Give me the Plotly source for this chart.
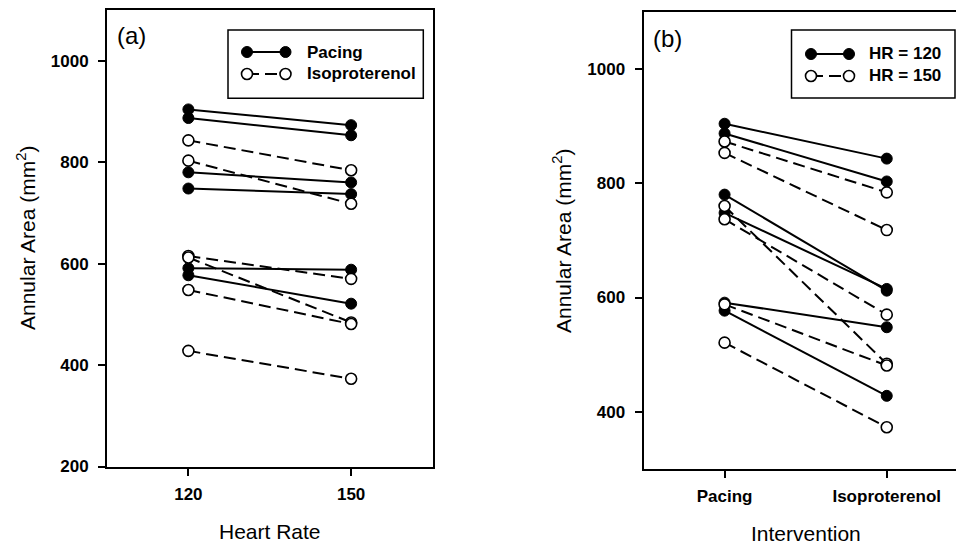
import plotly.graph_objects as go

# ---------------- data ----------------
# Panel (a): Annular area vs heart rate; each line = one animal
heart_rates = [120, 150]
a_pacing_120 = [904, 887, 780, 748, 591, 577]
a_pacing_150 = [873, 853, 760, 737, 588, 521]
a_iso_120 = [843, 803, 615, 612, 548, 428]
a_iso_150 = [784, 718, 570, 484, 481, 373]

# Panel (b): Annular area vs intervention
interventions = ["Pacing", "Isoproterenol"]
b_hr120_pacing = [904, 887, 780, 748, 591, 577]
b_hr120_iso = [843, 803, 612, 615, 548, 428]
b_hr150_pacing = [873, 853, 760, 737, 588, 521]
b_hr150_iso = [784, 718, 484, 570, 481, 373]

a_legend = ["Pacing", "Isoproterenol"]
b_legend = ["HR = 120", "HR = 150"]

# ---------------- helpers ----------------
W, H = 956, 544          # target picture size (positions below are in these pixels)
FIG_H = 554              # figure height used for the page
FONT = "Liberation Sans, Arial, Helvetica, sans-serif"


def px(x):
    return x / W


def py(y):
    return 1 - y / H


def pair_xy(xcats, starts, ends):
    xs, ys = [], []
    for s, e in zip(starts, ends):
        xs += [xcats[0], xcats[1], None]
        ys += [s, e, None]
    return xs, ys


filled = dict(symbol="circle", size=11, color="black", line=dict(color="black", width=1))
opened = dict(symbol="circle", size=11, color="white", line=dict(color="black", width=1.6))
solid = dict(color="black", width=2)
dashed = dict(color="black", width=2, dash="12px,6px")

fig = go.Figure()

# panel (a)
x, y = pair_xy(heart_rates, a_pacing_120, a_pacing_150)
fig.add_trace(go.Scatter(x=x, y=y, mode="lines+markers", line=solid, marker=filled,
                         name=a_legend[0], showlegend=False, xaxis="x", yaxis="y"))
x, y = pair_xy(heart_rates, a_iso_120, a_iso_150)
fig.add_trace(go.Scatter(x=x, y=y, mode="lines+markers", line=dashed, marker=opened,
                         name=a_legend[1], showlegend=False, xaxis="x", yaxis="y"))

# panel (b)
x, y = pair_xy(interventions, b_hr120_pacing, b_hr120_iso)
fig.add_trace(go.Scatter(x=x, y=y, mode="lines+markers", line=solid, marker=filled,
                         name=b_legend[0], showlegend=False, xaxis="x2", yaxis="y2"))
x, y = pair_xy(interventions, b_hr150_pacing, b_hr150_iso)
fig.add_trace(go.Scatter(x=x, y=y, mode="lines+markers", line=dashed, marker=opened,
                         name=b_legend[1], showlegend=False, xaxis="x2", yaxis="y2"))

tickfont = dict(family=FONT, size=17, color="black", weight="bold")
common = dict(showgrid=False, zeroline=False, showline=True, linecolor="black",
              linewidth=2, ticks="outside", ticklen=7, tickwidth=1.5,
              tickcolor="black", tickfont=tickfont)

fig.update_layout(
    width=W, height=FIG_H,
    margin=dict(l=0, r=0, t=0, b=0),
    paper_bgcolor="white", plot_bgcolor="white",
    showlegend=False,
    xaxis=dict(domain=[px(107), px(432.5)], range=[105, 165], tickvals=heart_rates,
               mirror=True, anchor="y", ticklabelstandoff=4, **common),
    yaxis=dict(domain=[py(466.5), py(10)], range=[200, 1100], tick0=0, dtick=200,
               mirror=True, anchor="x", ticklabelstandoff=6, **common),
    xaxis2=dict(domain=[px(643.5), 1.0], type="category", categoryorder="array",
                categoryarray=interventions, range=[-0.5, 1.427], mirror=True,
                anchor="y2", ticklabelstandoff=4, **common),
    yaxis2=dict(domain=[py(469), py(11.7)], range=[300, 1100], tick0=0, dtick=200,
                mirror=False, anchor="x2", ticklabelstandoff=6, **common),
)

annotations = []
shapes = []

# axis titles and panel labels
title_font = dict(family=FONT, size=21, color="black")
annotations += [
    dict(text="Annular Area (mm<sup>2</sup>)", x=px(26), y=py(238), textangle=-90,
         showarrow=False, xref="paper", yref="paper", xanchor="center", yanchor="middle",
         font=title_font),
    dict(text="Heart Rate", x=px(269.7), y=py(531), showarrow=False, xref="paper",
         yref="paper", xanchor="center", yanchor="middle", font=title_font),
    dict(text="Annular Area (mm<sup>2</sup>)", x=px(562), y=py(241), textangle=-90,
         showarrow=False, xref="paper", yref="paper", xanchor="center", yanchor="middle",
         font=title_font),
    dict(text="Intervention", x=px(805.8), y=py(533), showarrow=False, xref="paper",
         yref="paper", xanchor="center", yanchor="middle", font=title_font),
    dict(text="(a)", x=px(131), y=py(36), showarrow=False, xref="paper", yref="paper",
         xanchor="center", yanchor="middle", font=dict(family=FONT, size=24, color="black")),
    dict(text="(b)", x=px(667.5), y=py(39), showarrow=False, xref="paper", yref="paper",
         xanchor="center", yanchor="middle", font=dict(family=FONT, size=24, color="black")),
]


def add_legend(box, rows, labels, c1, c2, tx):
    x0, y0, x1, y1 = box
    shapes.append(dict(type="rect", xref="paper", yref="paper", x0=px(x0), x1=px(x1),
                       y0=py(y1), y1=py(y0), line=dict(color="black", width=1.5),
                       fillcolor="white", layer="above"))
    styles = [(solid, filled), (dashed, opened)]
    for (ry, lab, (ln, mk)) in zip(rows, labels, styles):
        shapes.append(dict(type="line", xref="paper", yref="paper", x0=px(c1), x1=px(c2),
                           y0=py(ry), y1=py(ry), line=ln, layer="above"))
        for cx in (c1, c2):
            shapes.append(dict(type="circle", xref="paper", yref="paper",
                               xsizemode="pixel", ysizemode="pixel",
                               xanchor=px(cx), yanchor=py(ry),
                               x0=-5.5, x1=5.5, y0=-5.5, y1=5.5,
                               fillcolor=mk["color"],
                               line=dict(color="black", width=mk["line"]["width"]),
                               layer="above"))
        annotations.append(dict(text=lab, x=px(tx), y=py(ry), showarrow=False,
                                xref="paper", yref="paper", xanchor="left",
                                yanchor="middle", font=tickfont))


add_legend((228, 30, 423.3, 98.3), (52, 74), a_legend, 247, 285.5, 305)
add_legend((791.5, 30, 955, 98), (54, 76), b_legend, 811, 849, 867)

fig.update_layout(annotations=annotations, shapes=shapes)

fig.write_html(
    "out.html",
    config={"displayModeBar": False},
    post_script=(
        "var h=document.documentElement, b=document.body;"
        "h.style.margin='0'; h.style.padding='0'; h.style.overflow='hidden';"
        "b.style.margin='0'; b.style.padding='0'; b.style.overflow='hidden';"
    ),
)
